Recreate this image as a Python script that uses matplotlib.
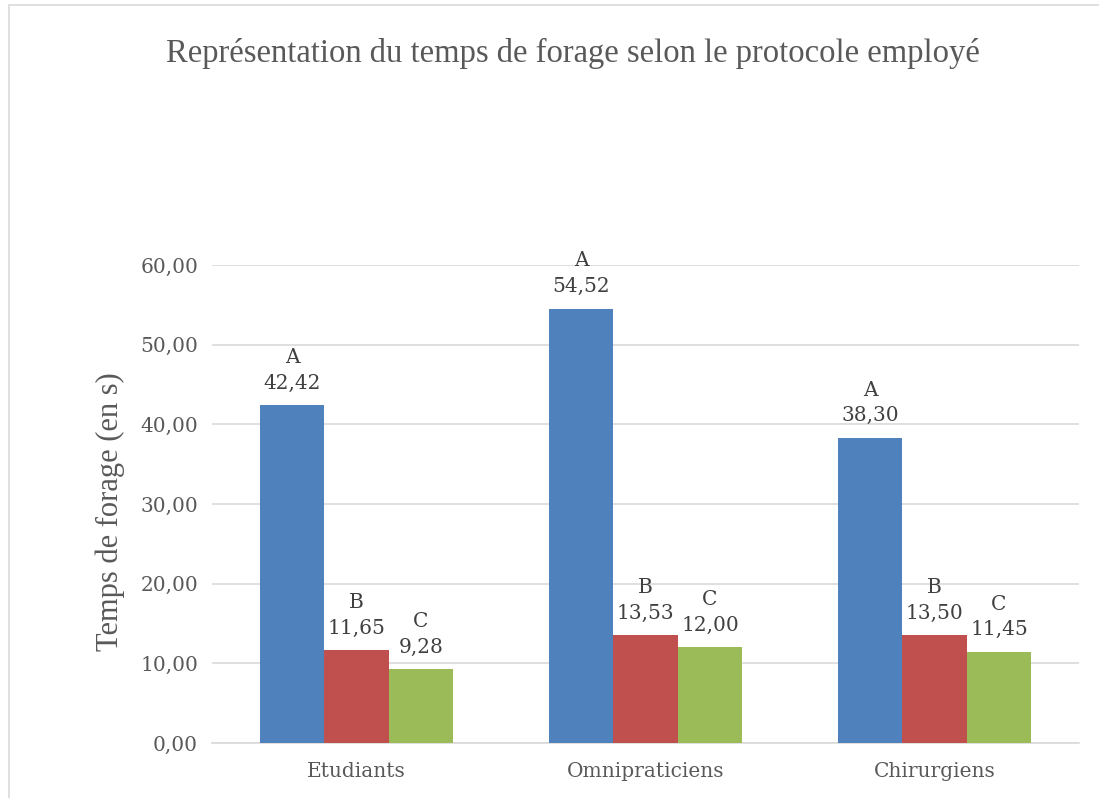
import numpy as np
import matplotlib
matplotlib.use("Agg")
import matplotlib.pyplot as plt
from matplotlib.patches import Rectangle

# data
groups = ["Etudiants", "Omnipraticiens", "Chirurgiens"]
series_a = [42.42, 54.52, 38.30]
series_b = [11.65, 13.53, 13.50]
series_c = [9.28, 12.00, 11.45]
letters = ["A", "B", "C"]
colors = ["#4F81BD", "#C0504D", "#9BBB59"]
yticks = [0, 10, 20, 30, 40, 50, 60]

fig = plt.figure(figsize=(10.99, 7.98), dpi=100)
ax = fig.add_axes([212/1099, 1-743/798, (1079-212)/1099, (743-265)/798])

# chart frame (runs off right and bottom edges like the source)
fig.patches.append(Rectangle((9/1099, -0.1), 1.2, 1-5/798+0.1, transform=fig.transFigure,
                             fill=False, edgecolor="#D9D9D9", lw=1.2, zorder=0))

x = np.arange(len(groups))
w = 0.223
tick_font = dict(family="DejaVu Serif", size=14.5, color="#595959")
lab_font = dict(family="DejaVu Serif", size=14.5, color="#404040")

for i, vals in enumerate([series_a, series_b, series_c]):
    pos = x + (i - 1) * w
    ax.bar(pos, vals, width=w, color=colors[i], zorder=3)
    for p, v in zip(pos, vals):
        s = "%s\n%.2f" % (letters[i], v)
        ax.annotate(s.replace(".", ","), (p, v), xytext=(0, 9), textcoords="offset points",
                    ha="center", va="bottom", linespacing=1.45, **lab_font)

ax.set_xlim(-0.5, 2.5)
ax.set_ylim(0, 60)
ax.set_yticks(yticks)
ax.set_yticklabels([("%.2f" % t).replace(".", ",") for t in yticks], **tick_font)
ax.set_xticks(x)
ax.set_xticklabels(groups, **tick_font)
ax.tick_params(length=0, pad=10)
ax.tick_params(axis="x", pad=14)
ax.grid(axis="y", color="#D9D9D9", lw=1.2, zorder=0)
for s in ["top", "right", "left"]:
    ax.spines[s].set_visible(False)
ax.spines["bottom"].set_color("#D9D9D9")
ax.spines["bottom"].set_linewidth(1.2)

fig.text(573/1099, 1-53/798, "Représentation du temps de forage selon le protocole employé",
         ha="center", va="center", family="Liberation Serif", size=23.5, color="#595959")
fig.text(110/1099, 1-512/798, "Temps de forage (en s)", rotation=90, ha="center", va="center",
         family="Liberation Serif", size=22, color="#595959")

fig.savefig("out.png", dpi=100)
